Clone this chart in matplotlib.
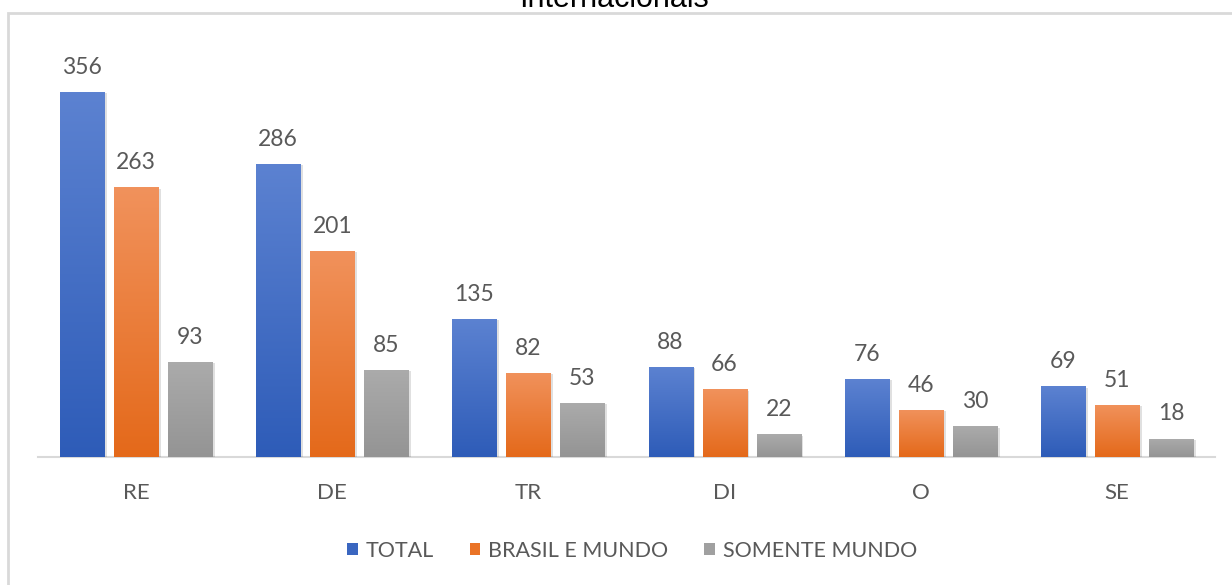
import numpy as np
import matplotlib
matplotlib.use("Agg")
import matplotlib.pyplot as plt
from matplotlib.patches import Rectangle
from matplotlib import patheffects as pe
from matplotlib.colors import to_rgb

categories = ["RE", "DE", "TR", "DI", "O", "SE"]
series_names = ["TOTAL", "BRASIL E MUNDO", "SOMENTE MUNDO"]
total = [356, 286, 135, 88, 76, 69]
brasil_e_mundo = [263, 201, 82, 66, 46, 51]
somente_mundo = [93, 85, 53, 22, 30, 18]
title_text = "Internacionais"

series = [total, brasil_e_mundo, somente_mundo]
grad_top = ["#5c82d1", "#f1925c", "#ababab"]
grad_bot = ["#2e5cb8", "#e4691a", "#949494"]
legend_cols = ["#3a66c0", "#ea7326", "#a0a0a0"]

FONT = ["Lato", "DejaVu Sans"]
TXT = "#595959"

W, H = 1232, 585
fig = plt.figure(figsize=(W / 100, H / 100), dpi=100)
fig.patch.set_facecolor("white")

# outer chart border (partially visible)
fig.patches.append(Rectangle((8 / W, -0.05), 1.05, (H - 13) / H + 0.05,
                             transform=fig.transFigure, fill=False,
                             edgecolor="#d9d9d9", linewidth=2.0))

# title (cropped at top, as in the reference)
fig.text(614 / W, 1 - 7 / H, title_text, ha="center", va="baseline",
         fontsize=22, family=["Liberation Sans", "DejaVu Sans"], color="black")

ax_left, ax_right = 38 / W, 1215 / W
ax_bottom, ax_top = 1 - 457 / H, 1 - 20 / H
ax = fig.add_axes([ax_left, ax_bottom, ax_right - ax_left, ax_top - ax_bottom])
ax.set_facecolor("none")

x = np.arange(len(categories))
bw = 44 / 196
step = 54 / 196
offsets = [-step, 0, step]

grad = np.linspace(0, 1, 256)[:, None]
for si, vals in enumerate(series):
    c0 = np.array(to_rgb(grad_bot[si]))
    c1 = np.array(to_rgb(grad_top[si]))
    img = (c1[None, None, :] * grad[:, :, None] + c0[None, None, :] * (1 - grad[:, :, None]))
    img = img[::-1]
    bars = ax.bar(x + offsets[si], vals, width=bw, color=grad_top[si], linewidth=0, zorder=2,
                  path_effects=[pe.SimplePatchShadow(offset=(2, -1), shadow_rgbFace="#000000", alpha=0.12),
                                pe.Normal()])
    for b, v in zip(bars, vals):
        x0 = b.get_x()
        im = ax.imshow(img, extent=[x0, x0 + b.get_width(), 0, v], aspect="auto",
                       zorder=3, interpolation="bilinear")
        im.set_clip_path(b)
        ax.annotate(str(v), (x0 + b.get_width() / 2, v), xytext=(0, 13),
                    textcoords="offset points", ha="center", va="baseline",
                    fontsize=16.5, family=FONT, color=TXT)

ax.set_xlim(-0.5, len(categories) - 0.5)
ax.set_ylim(0, 437 / 1.025)
ax.set_xticks(x)
ax.set_xticklabels(categories, family=FONT, fontsize=16, color=TXT)
ax.tick_params(axis="x", length=0, pad=19)
ax.set_yticks([])
for s in ["left", "right", "top"]:
    ax.spines[s].set_visible(False)
ax.spines["bottom"].set_color("#d9d9d9")
ax.spines["bottom"].set_linewidth(1.5)
ax.spines["bottom"].set_zorder(1)

handles = [Rectangle((0, 0), 1, 1, facecolor=c, edgecolor="none") for c in legend_cols]
fig.legend(handles, series_names, loc="center", bbox_to_anchor=(632 / W, 1 - 551 / H),
           ncol=3, frameon=False, prop={"family": FONT, "size": 15.5},
           labelcolor=TXT, handlelength=0.5, handleheight=0.5, handletextpad=0.37,
           columnspacing=1.65)

fig.savefig("out.png", dpi=100)
